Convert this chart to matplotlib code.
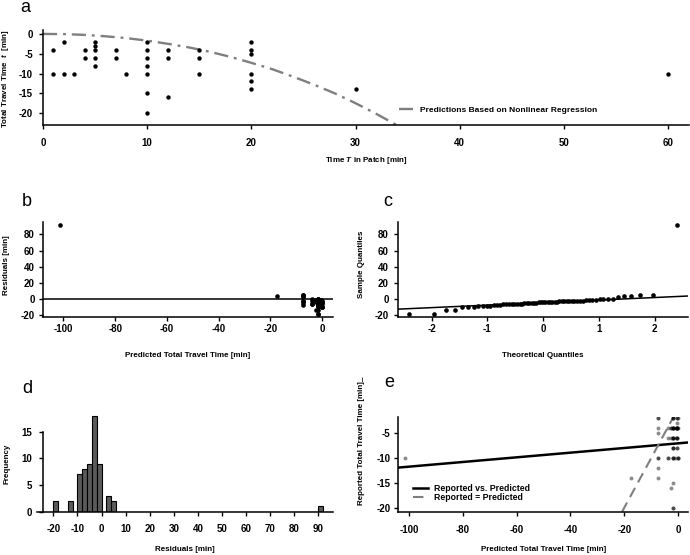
"""
plot.py

five-panel figure: travel time vs time in patch, residual diagnostics
"""

from statistics import NormalDist

import numpy as np
import matplotlib
matplotlib.use("Agg")
import matplotlib.pyplot as plt


# ===========================
# data
# ===========================

# unique observations (time in patch, reported travel time) and how often each occurs
patch_time = [1, 1, 2, 2, 3, 4, 4, 5, 5, 5, 5, 5, 7, 7, 8,
              10, 10, 10, 10, 10, 10, 10, 12, 12, 12, 15, 15, 15,
              20, 20, 20, 20, 20, 20, 30, 60]
travel_time = [-4, -10, -2, -10, -10, -4, -6, -2, -3, -4, -6, -8, -4, -6, -10,
               -2, -4, -6, -8, -10, -15, -20, -4, -6, -16, -4, -6, -10,
               -2, -4, -5, -10, -12, -14, -14, -10]
n_obs = [1, 1, 1, 1, 1, 2, 1, 2, 1, 3, 2, 2, 2, 1, 1,
         3, 5, 4, 3, 3, 1, 2, 2, 1, 1, 1, 1, 2,
         2, 1, 1, 2, 1, 1, 1, 1]

# predicted travel time per patch time (nonlinear regression)
pred_T = [1, 2, 3, 4, 5, 7, 8, 10, 12, 15, 20, 30, 60]
pred_t = [-0.01, -0.05, -0.13, -0.24, -0.4, -0.8, -1.05, -1.7, -2.5, -3.9, -7.3, -17.5, -101.5]

# regression curve
curve_T = [0, 2, 4, 6, 8, 10, 12, 14, 16, 18, 20, 22, 24, 26, 28, 30, 32, 34]
curve_t = [0, -0.05, -0.24, -0.6, -1.05, -1.7, -2.5, -3.4, -4.5, -5.8, -7.3,
           -8.9, -10.8, -12.8, -15.0, -17.5, -20.2, -23.1]

# reported vs predicted fit (panel e)
fit_intercept = -7.02
fit_slope = 0.047

hist_bins = np.arange(-20, 94, 2)

# ===========================
# derived
# ===========================

pred_lookup = dict(zip(pred_T, pred_t))
T_all = np.repeat(patch_time, n_obs)
t_all = np.repeat(travel_time, n_obs).astype(float)
p_all = np.array([pred_lookup[T] for T in T_all])
resid = t_all - p_all

n = len(resid)
theo_q = np.array([NormalDist().inv_cdf((i - 0.5) / n) for i in range(1, n + 1)])
samp_q = np.sort(resid)
q1, q3 = np.quantile(resid, [0.25, 0.75])
z1, z3 = NormalDist().inv_cdf(0.25), NormalDist().inv_cdf(0.75)
qq_slope = (q3 - q1) / (z3 - z1)
qq_int = q1 - qq_slope * z1


# ===========================
# style
# ===========================

plt.rcParams["font.family"] = ["Liberation Sans", "DejaVu Sans"]
plt.rcParams["font.weight"] = "bold"
plt.rcParams["axes.labelweight"] = "bold"
plt.rcParams["axes.unicode_minus"] = False
plt.rcParams["mathtext.fontset"] = "custom"
plt.rcParams["mathtext.it"] = "Liberation Sans:italic:bold"
plt.rcParams["mathtext.rm"] = "Liberation Sans:bold"

TICK_FS = 7
LABEL_FS = 5.8


def style(ax, xpad, ypad):
    for s in ["top", "right"]:
        ax.spines[s].set_visible(False)
    for s in ["left", "bottom"]:
        ax.spines[s].set_linewidth(1.1)
    ax.tick_params(length=3, width=1.0, labelsize=TICK_FS)
    ax.tick_params(axis="x", pad=xpad)
    ax.tick_params(axis="y", pad=ypad)


def place_labels(ax, xy_x, xy_y):
    # label centres, in axes fraction
    ax.xaxis.set_label_coords(*xy_x)
    ax.yaxis.set_label_coords(*xy_y)
    ax.xaxis.label.set_verticalalignment("center")
    ax.yaxis.label.set_verticalalignment("center")


fig = plt.figure(figsize=(6.9, 5.55), dpi=100)

ax_a = fig.add_axes([0.0623, 0.7748, 0.9362, 0.1712])
ax_b = fig.add_axes([0.0619, 0.4288, 0.4207, 0.1717])
ax_c = fig.add_axes([0.5764, 0.4288, 0.4207, 0.1717])
ax_d = fig.add_axes([0.0532, 0.0780, 0.4294, 0.1807])
ax_e = fig.add_axes([0.5772, 0.0780, 0.4203, 0.1712])

# ---- a
ax_a.scatter(patch_time, travel_time, s=10, color="black", lw=0, zorder=3)
ax_a.plot(curve_T, curve_t, color="#7f7f7f", lw=1.7,
          linestyle=(0, (6, 2.5, 1.2, 2.5)),
          label="Predictions Based on Nonlinear Regression")
ax_a.set_xlim(0, 62)
ax_a.set_ylim(-23, 1)
ax_a.set_xticks(range(0, 61, 10))
ax_a.set_yticks([0, -5, -10, -15, -20])
style(ax_a, 6.5, 4.3)
ax_a.set_xlabel("Time $T$ in Patch [min]", fontsize=LABEL_FS)
ax_a.set_ylabel("Total Travel Time  $t$  [min]", fontsize=LABEL_FS)
place_labels(ax_a, (0.5, -0.376), (-0.058, 0.49))
ax_a.legend(loc="center left", bbox_to_anchor=(0.551, 0.158), frameon=False,
            fontsize=6, handlelength=1.7, handletextpad=0.8,
            borderpad=0, borderaxespad=0)

# ---- b
ax_b.scatter(p_all, resid, s=11, color="black", lw=0, zorder=3)
ax_b.axhline(0, color="black", lw=1.1)
ax_b.set_xlim(-108, 4.2)
ax_b.set_ylim(-22, 95.5)
ax_b.set_xticks(range(-100, 1, 20))
ax_b.set_yticks(range(-20, 81, 20))
style(ax_b, 1.7, 2.7)
ax_b.set_xlabel("Predicted Total Travel Time [min]", fontsize=LABEL_FS)
ax_b.set_ylabel("Residuals [min]", fontsize=LABEL_FS)
place_labels(ax_b, (0.5, -0.406), (-0.124, 0.546))

# ---- c
ax_c.scatter(theo_q, samp_q, s=11, color="black", lw=0, zorder=3)
ax_c.axline((0, qq_int), slope=qq_slope, color="black", lw=1.1)
ax_c.set_xlim(-2.61, 2.6)
ax_c.set_ylim(-22, 95.5)
ax_c.set_xticks([-2, -1, 0, 1, 2])
ax_c.set_yticks(range(-20, 81, 20))
style(ax_c, 1.7, 3.4)
ax_c.set_xlabel("Theoretical Quantiles", fontsize=LABEL_FS)
ax_c.set_ylabel("Sample Quantiles", fontsize=LABEL_FS)
place_labels(ax_c, (0.5, -0.406), (-0.124, 0.55))

# ---- d
ax_d.hist(resid, bins=hist_bins, color="#5a5a5a", edgecolor="black", lw=0.8)
ax_d.set_xlim(-26.9, 96.1)
ax_d.set_ylim(0, 18.8)
ax_d.set_xticks(range(-20, 91, 10))
ax_d.set_yticks([0, 5, 10, 15])
style(ax_d, 6.0, 4.6)
ax_d.spines["left"].set_position(("data", -24.4))
ax_d.spines["left"].set_bounds(0, 15)
ax_d.set_xlabel("Residuals [min]", fontsize=LABEL_FS)
ax_d.set_ylabel("Frequency", fontsize=LABEL_FS)
place_labels(ax_d, (0.5, -0.372), (-0.101, 0.475))

# ---- e
ax_e.scatter(p_all, t_all, s=8, color="black", alpha=0.45, lw=0, zorder=3)
ax_e.axline((0, fit_intercept), slope=fit_slope, color="black", lw=1.8,
            label="Reported vs. Predicted")
ax_e.axline((0, 0), slope=1, color="#7f7f7f", lw=1.5, linestyle=(0, (5, 3)),
            label="Reported = Predicted")
ax_e.set_xlim(-104, 3.8)
ax_e.set_ylim(-20.8, -1.65)
ax_e.set_xticks(range(-100, 1, 20))
ax_e.set_yticks([-5, -10, -15, -20])
style(ax_e, 6.7, 2.6)
ax_e.set_xlabel("Predicted Total Travel Time [min]", fontsize=LABEL_FS)
ax_e.set_ylabel("Reported Total Travel Time [min]_", fontsize=LABEL_FS)
place_labels(ax_e, (0.5, -0.393), (-0.126, 0.744))
ax_e.legend(loc="center left", bbox_to_anchor=(0.05, 0.197), frameon=False,
            fontsize=6.3, handlelength=1.7, handletextpad=0.7,
            labelspacing=0.0, borderpad=0, borderaxespad=0)

# ---- panel letters
for letter, x, y in [("a", 0.029, 0.979), ("b", 0.032, 0.629), ("c", 0.556, 0.628),
                     ("d", 0.032, 0.291), ("e", 0.557, 0.303)]:
    fig.text(x, y, letter, fontsize=13, fontweight="normal", va="baseline")

fig.savefig("out.png", dpi=100)
